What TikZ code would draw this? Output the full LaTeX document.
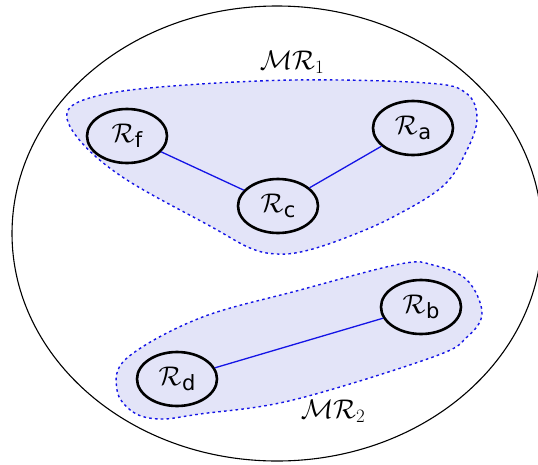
\RequirePackage{fix-cm}
\documentclass[tikz,border=0pt]{standalone}
\usepackage{fontspec}
\setsansfont{DejaVu Sans}
\usetikzlibrary{shapes.geometric}

\definecolor{groupfill}{RGB}{227,228,248}
\definecolor{linkblue}{RGB}{20,20,230}

% calligraphic R with an upright sans subscript
\newcommand{\regname}[1]{$\mathcal{R}$\kern0.5pt\raisebox{-5pt}{\fontsize{21}{21}\selectfont\sffamily #1}}

\tikzset{
  region/.style={ellipse, draw=black, line width=2.6pt, fill=groupfill,
    minimum width=80pt, minimum height=54pt, inner sep=0pt,
    font=\fontsize{27}{30}\selectfont},
  link/.style={draw=linkblue, line width=1.3pt},
  group/.style={draw=linkblue, line width=1.4pt, dash pattern=on 2.6pt off 3.2pt,
    fill=groupfill},
  grouplabel/.style={font=\fontsize{27}{30}\selectfont, inner sep=0pt},
}

\begin{document}
\begin{tikzpicture}[x=1pt, y=-1pt]
  \useasboundingbox (0,0) rectangle (538,464);

  % outer boundary
  \draw[line width=1.1pt] (277,233.5) ellipse [x radius=265, y radius=227.5];

  % first group outline
  \draw[group] plot[smooth cycle, tension=0.6] coordinates {
    (67,113) (93,97) (160,87) (293,80) (427,83) (466,93)
    (477,118) (467,150) (443,186) (393,217) (345,238) (305,251)
    (277,254) (250,248) (210,226) (127,180) (82,143)};

  % second group outline
  \draw[group] plot[smooth cycle, tension=0.6] coordinates {
    (117,390) (133,412) (160,419) (200,414) (293,400) (433,357)
    (467,337) (482,313) (467,280) (433,265) (400,264) (300,290)
    (200,318) (127,358)};

  % regions
  \node[region] (f) at (127,136) {\regname{f}};
  \node[region] (a) at (413,128) {\regname{a}};
  \node[region] (c) at (278,206) {\regname{c}};
  \node[region] (b) at (421,307) {\regname{b}};
  \node[region] (d) at (177,379) {\regname{d}};

  % links
  \draw[link] (f) -- (c);
  \draw[link] (c) -- (a);
  \draw[link] (d) -- (b);

  % group labels
  \node[grouplabel] (mr1) at (292,62) {$\mathcal{MR}_1$};
  \node[grouplabel] (mr2) at (333,411) {$\mathcal{MR}_2$};
\end{tikzpicture}
\end{document}
